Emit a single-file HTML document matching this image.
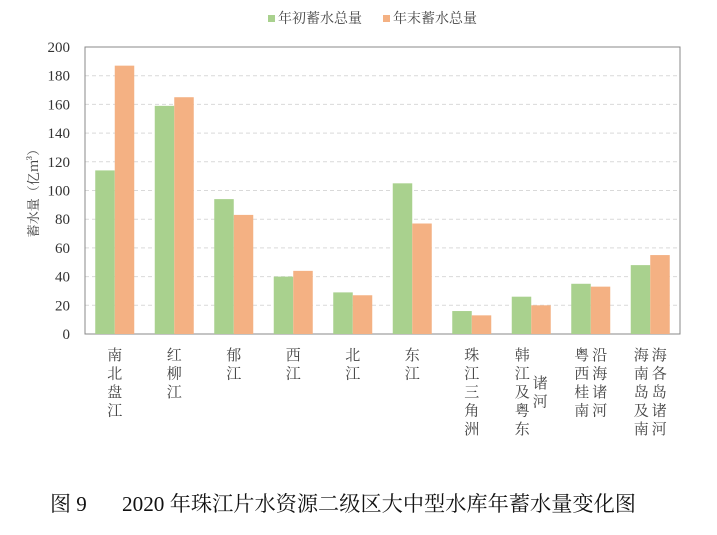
<!DOCTYPE html>
<html><head><meta charset="utf-8"><style>
body{margin:0;background:#fff;width:717px;height:530px;overflow:hidden;font-family:"Liberation Serif","Noto Serif CJK SC",serif}
</style></head><body>
<svg width="717" height="530" id="svg">
<g id="g"></g>
</svg>
<script>
const categories=[["南北盘江"],["红柳江"],["郁江"],["西江"],["北江"],["东江"],["珠江三角洲"],["韩江及粤东","诸河"],["粤西桂南","沿海诸河"],["海南岛及南","海各岛诸河"]];
const startValues=[114,159,94,40,29,105,16,26,35,48];
const endValues=[187,165,83,44,27,77,13,20,33,55];
const tickLabels=[0,20,40,60,80,100,120,140,160,180,200];
const L=85,R=680,T=47,B=334,MAX=200;
const y=v=>B-(v/MAX)*(B-T);
const gw=(R-L)/categories.length;
const xc=i=>L+gw*(i+0.5);
const NS="http://www.w3.org/2000/svg";
const g=document.getElementById('g');
function mk(t,a,txt){const e=document.createElementNS(NS,t);for(const k in a)e.setAttribute(k,a[k]);if(txt!=null)e.textContent=txt;g.appendChild(e);return e;}
tickLabels.forEach(v=>{
 if(v>0&&v<MAX){const l=mk('line',{x1:L,x2:R,y1:y(v),y2:y(v),stroke:'#d9d9d9','stroke-dasharray':'4,3'});
 
 }
 const t=mk('text',{x:70,y:y(v)+5,'text-anchor':'end','font-size':'15',fill:'#333'},v);
 
 
});
const fr=mk('rect',{x:L,y:T,width:R-L,height:B-T,fill:'none',stroke:'#888'});


const bw=19.5;
categories.forEach((c,i)=>{
 const b1=mk('rect',{x:xc(i)-bw,y:y(startValues[i]),width:bw,height:B-y(startValues[i]),fill:'#a9d18e'});
 
 
 const b2=mk('rect',{x:xc(i),y:y(endValues[i]),width:bw,height:B-y(endValues[i]),fill:'#f4b183'});
 
 
 const n=c.length;
 c.forEach((col,j)=>{
  const cx=n===1?xc(i):xc(i)+(j===0?-9:9);
  const off=(n===2&&col.length<3&&j===1)?1.5:0;
  [...col].forEach((ch,k)=>{
   const t=mk('text',{x:cx,y:360+(k+off)*18.5,'text-anchor':'middle','font-size':'15',fill:'#444','font-family':'"Noto Serif CJK SC",serif'},ch);
   
   
  });
 });
});
const yt=mk('text',{x:0,y:0,transform:'translate(38,190) rotate(-90)','text-anchor':'middle','font-size':'13',fill:'#444','font-family':'"Noto Serif CJK SC",serif'},'蓄水量（亿m³）');


[[268,'#a9d18e','年初蓄水总量'],[383,'#f4b183','年末蓄水总量']].forEach(([x,c,s])=>{
 const r=mk('rect',{x:x,y:15,width:7,height:7,fill:c});
 
 
 const t=mk('text',{x:x+10,y:23,'font-size':'14',fill:'#444','font-family':'"Noto Serif CJK SC",serif'},s);
 
 
});
const cap1=mk('text',{x:50,y:511,'font-size':'21',fill:'#111'},'图 9');


const cap=mk('text',{x:122,y:511,'font-size':'21',fill:'#111',textLength:'514',lengthAdjust:'spacingAndGlyphs'},'2020 年珠江片水资源二级区大中型水库年蓄水量变化图');


</script>
</body></html>
